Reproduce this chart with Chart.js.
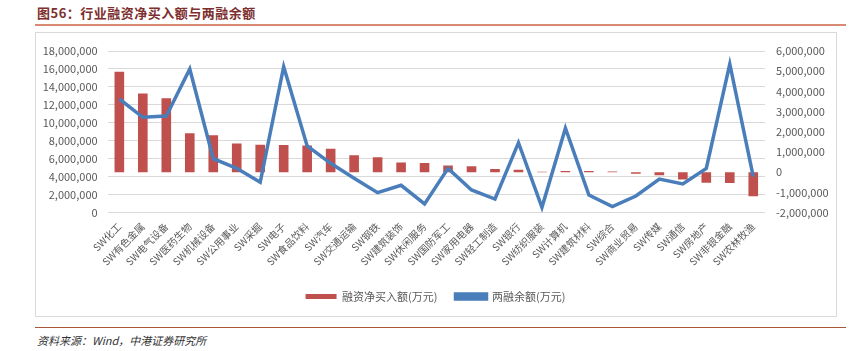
<!DOCTYPE html>
<html>
<head>
<meta charset="utf-8">
<script src="https://cdn.jsdelivr.net/npm/chart.js@4/dist/chart.umd.min.js"></script>
<style>
  html, body { margin: 0; padding: 0; background: #ffffff; }
  body { width: 861px; height: 351px; position: relative; overflow: hidden; font-family: "Noto Sans CJK SC", "Noto Sans", sans-serif; }
  #title { position: absolute; left: 37px; top: 4px; font-size: 13px; font-weight: bold; color: #7d2e2e; letter-spacing: 0.5px; line-height: 18px; white-space: nowrap; }
  #topline { position: absolute; left: 35px; top: 23.5px; width: 811px; height: 2px; background: #d88a72; }
  #frame { position: absolute; left: 35px; top: 32px; width: 800px; height: 283px; border: 1px solid #d9d9d9; }
  #wrap { position: absolute; left: 35px; top: 33px; width: 801px; height: 284px; }
  #botline { position: absolute; left: 35px; top: 326.5px; width: 811px; height: 1.5px; background: #a8573a; }
  #source { position: absolute; left: 37px; top: 332px; font-size: 11px; font-style: italic; color: #333333; line-height: 16px; white-space: nowrap; }
</style>
</head>
<body>
<div id="title">图56：行业融资净买入额与两融余额</div>
<div id="topline"></div>
<div id="frame"></div>
<div id="wrap"><canvas id="c" width="801" height="284"></canvas></div>
<div id="botline"></div>
<div id="source">资料来源：Wind，中港证券研究所</div>
<script>
const categories = ["SW化工","SW有色金属","SW电气设备","SW医药生物","SW机械设备","SW公用事业","SW采掘","SW电子","SW食品饮料","SW汽车","SW交通运输","SW钢铁","SW建筑装饰","SW休闲服务","SW国防军工","SW家用电器","SW轻工制造","SW银行","SW纺织服装","SW计算机","SW建筑材料","SW综合","SW商业贸易","SW传媒","SW通信","SW房地产","SW非银金融","SW农林牧渔"];
const netBuy = [4970000,3900000,3660000,1920000,1830000,1420000,1360000,1340000,1320000,1160000,840000,740000,480000,450000,330000,290000,150000,120000,20000,50000,50000,30000,-80000,-150000,-360000,-530000,-540000,-1190000];
const marginBalance = [12650000,10610000,10760000,16000000,6000000,4920000,3370000,16250000,7410000,5480000,3810000,2210000,3030000,950000,4920000,2510000,1500000,7780000,580000,9390000,1950000,650000,1840000,3730000,3180000,4920000,16550000,3990000];
const seriesNames = ["融资净买入额(万元)","两融余额(万元)"];
const leftTicks = {min: 0, max: 18000000, step: 2000000};
const rightTicks = {min: -2000000, max: 6000000, step: 1000000};

const fmt = v => Number(v).toLocaleString('en-US');
const tickFont = {family: '"Noto Sans CJK SC", "Noto Sans", sans-serif', size: 11};

new Chart(document.getElementById('c'), {
  data: {
    labels: categories,
    datasets: [
      {
        type: 'bar',
        label: seriesNames[0],
        data: netBuy,
        yAxisID: 'y1',
        backgroundColor: '#c0504d',
        borderColor: '#c0504d',
        borderWidth: 0,
        categoryPercentage: 1,
        barPercentage: 0.41,
        order: 2
      },
      {
        type: 'line',
        label: seriesNames[1],
        data: marginBalance,
        yAxisID: 'y',
        borderColor: '#4a7ebb',
        backgroundColor: '#4a7ebb',
        borderWidth: 3.5,
        pointRadius: 0,
        tension: 0,
        order: 1
      }
    ]
  },
  options: {
    responsive: false,
    animation: false,
    devicePixelRatio: 1,
    layout: { padding: { top: 18, bottom: 5, left: 0, right: 0 } },
    plugins: {
      tooltip: { enabled: false },
      legend: {
        position: 'bottom',
        labels: {
          boxWidth: 31,
          boxHeight: 5,
          padding: 18,
          color: '#595959',
          font: tickFont,
          sort: (a, b) => a.datasetIndex - b.datasetIndex
        }
      }
    },
    scales: {
      x: {
        grid: { display: false, drawTicks: false },
        border: { display: false },
        ticks: {
          autoSkip: false,
          minRotation: 45,
          maxRotation: 45,
          padding: 8,
          color: '#595959',
          font: {family: '"Noto Sans CJK SC", "Noto Sans", sans-serif', size: 10}
        },
        afterFit: s => { s.height = 60.5; }
      },
      y: {
        position: 'left',
        min: leftTicks.min,
        max: leftTicks.max,
        grid: { color: '#d9d9d9', lineWidth: 1, drawTicks: false },
        border: { display: false },
        ticks: { stepSize: leftTicks.step, padding: 10, color: '#595959', font: tickFont, callback: v => fmt(v) },
        afterFit: s => { s.width = 72.6; }
      },
      y1: {
        position: 'right',
        min: rightTicks.min,
        max: rightTicks.max,
        grid: { display: false, drawTicks: false },
        border: { display: false },
        ticks: { stepSize: rightTicks.step, padding: 11, color: '#595959', font: tickFont, callback: v => fmt(v) },
        afterFit: s => { s.width = 71; }
      }
    }
  }
});
</script>
</body>
</html>
